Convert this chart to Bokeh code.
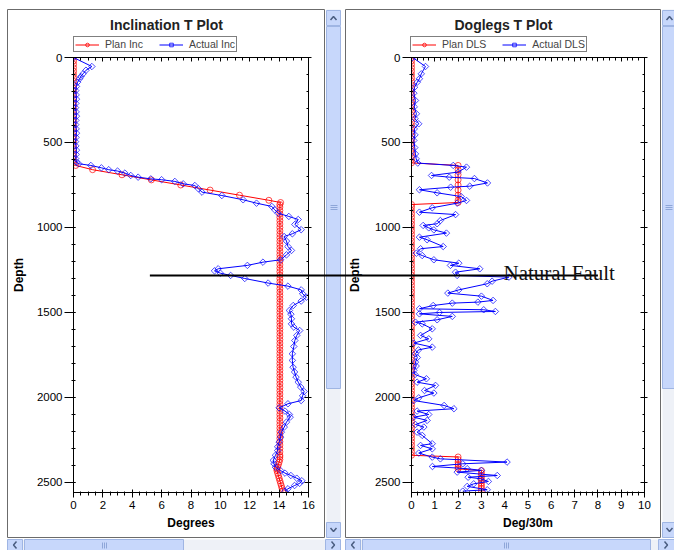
import math
from bokeh.plotting import figure
from bokeh.models import (Range1d, LinearAxis, SingleIntervalTicker, Label, Legend, LegendItem)
from bokeh.core.properties import value
from bokeh.layouts import row, column
from bokeh.embed import file_html
from bokeh.resources import INLINE

# ---------------- data ----------------
plan_depth = [0, 20, 40, 60, 80, 100, 120, 140, 160, 180, 200, 220, 240, 260, 280, 300,
              320, 340, 360, 380, 400, 420, 440, 460, 480, 500, 520, 540, 560, 580, 600, 620,
              635, 660, 690, 720, 750, 780, 810, 840, 853, 865,
              880, 900, 920, 940, 960, 980, 1000, 1020, 1040, 1060, 1080, 1100, 1120, 1140,
              1160, 1180, 1200, 1220, 1240, 1260, 1280, 1300, 1320, 1340, 1360, 1380, 1400,
              1420, 1440, 1460, 1480, 1500, 1520, 1540, 1560, 1580, 1600, 1620, 1640, 1660,
              1680, 1700, 1720, 1740, 1760, 1780, 1800, 1820, 1840, 1860, 1880, 1900, 1920,
              1940, 1960, 1980, 2000, 2020, 2040, 2060, 2080, 2100, 2120, 2140, 2160, 2180,
              2200, 2220, 2240, 2260, 2280, 2300, 2320, 2340,
              2350, 2365, 2380, 2395, 2410, 2420, 2430, 2445, 2460, 2475, 2490, 2505, 2520,
              2535, 2550]
plan_inc = [0.0, 0.0, 0.0, 0.0, 0.0, 0.0, 0.0, 0.0, 0.0, 0.0, 0.0, 0.0, 0.0, 0.0, 0.0, 0.0,
            0.0, 0.0, 0.0, 0.0, 0.0, 0.0, 0.0, 0.0, 0.0, 0.0, 0.0, 0.0, 0.0, 0.0, 0.0, 0.0,
            0.15, 1.3, 3.3, 5.3, 7.3, 9.3, 11.3, 13.3, 14.1, 14.05,
            14.05, 14.05, 14.05, 14.05, 14.05, 14.05, 14.05, 14.05, 14.05, 14.05, 14.05,
            14.05, 14.05, 14.05, 14.05, 14.05, 14.05, 14.05, 14.05, 14.05, 14.05, 14.05,
            14.05, 14.05, 14.05, 14.05, 14.05, 14.05, 14.05, 14.05, 14.05, 14.05, 14.05,
            14.05, 14.05, 14.05, 14.05, 14.05, 14.05, 14.05, 14.05, 14.05, 14.05, 14.05,
            14.05, 14.05, 14.05, 14.05, 14.05, 14.05, 14.05, 14.05, 14.05, 14.05, 14.05,
            14.05, 14.05, 14.05, 14.05, 14.05, 14.05, 14.05, 14.05, 14.05, 14.05, 14.05,
            14.05, 14.05, 14.05, 14.05, 14.05, 14.05, 14.05, 14.05, 14.05, 14.05,
            14.0, 13.95, 13.9, 13.85, 13.85, 13.9, 13.95, 14.0, 14.05, 14.1, 14.15, 14.2,
            14.25, 14.3, 14.35]
plan_dls = [0.0, 0.0, 0.0, 0.0, 0.0, 0.0, 0.0, 0.0, 0.0, 0.0, 0.0, 0.0, 0.0, 0.0, 0.0, 0.0,
            0.0, 0.0, 0.0, 0.0, 0.0, 0.0, 0.0, 0.0, 0.0, 0.0, 0.0, 0.0, 0.0, 0.0, 0.0, 0.0,
            2.0, 2.0, 2.0, 2.0, 2.0, 2.0, 2.0, 2.0, 2.0, 0.0,
            0.0, 0.0, 0.0, 0.0, 0.0, 0.0, 0.0, 0.0, 0.0, 0.0, 0.0, 0.0, 0.0, 0.0, 0.0, 0.0,
            0.0, 0.0, 0.0, 0.0, 0.0, 0.0, 0.0, 0.0, 0.0, 0.0, 0.0, 0.0, 0.0, 0.0, 0.0, 0.0,
            0.0, 0.0, 0.0, 0.0, 0.0, 0.0, 0.0, 0.0, 0.0, 0.0, 0.0, 0.0, 0.0, 0.0, 0.0, 0.0,
            0.0, 0.0, 0.0, 0.0, 0.0, 0.0, 0.0, 0.0, 0.0, 0.0, 0.0, 0.0, 0.0, 0.0, 0.0, 0.0,
            0.0, 0.0, 0.0, 0.0, 0.0, 0.0, 0.0, 0.0, 0.0, 0.0,
            2.0, 2.0, 2.0, 2.0, 2.0, 2.0, 3.0, 3.0, 3.0, 3.0, 3.0, 3.0, 3.0, 3.0, 3.0]

inc_depth = [0, 53, 75, 96, 112, 125, 145, 170, 195, 220, 245, 270, 295, 320, 345, 370, 395,
             420, 445, 470, 495, 520, 545, 570, 595, 615, 625, 635, 649, 660, 668, 680, 694,
             704, 714, 719, 729, 743, 753, 772, 792, 812, 837, 857, 876, 896, 916, 935, 953,
             982, 1013, 1037, 1053, 1080, 1112, 1135, 1161, 1190, 1204, 1223, 1243, 1255,
             1269, 1282, 1300, 1327, 1345, 1367, 1390, 1410, 1433, 1459, 1488, 1510, 1537,
             1567, 1586, 1606, 1635, 1665, 1700, 1743, 1782, 1822, 1850, 1880, 1910, 1939,
             1965, 1990, 2018, 2037, 2061, 2080, 2100, 2116, 2145, 2174, 2204, 2233, 2262,
             2290, 2312, 2340, 2370, 2390, 2410, 2430, 2445, 2459, 2475, 2490, 2505, 2518,
             2537, 2551]
actual_inc = [0.0, 1.25, 0.85, 0.65, 0.5, 0.42, 0.28, 0.2, 0.15, 0.18, 0.2, 0.16, 0.14, 0.18,
              0.2, 0.16, 0.15, 0.18, 0.2, 0.17, 0.14, 0.16, 0.2, 0.18, 0.15, 0.2, 0.36, 1.18,
              1.9, 2.4, 3.0, 3.5, 3.9, 4.4, 5.26, 6.0, 6.9, 7.47, 8.26, 8.5, 8.75, 10.1, 11.55,
              12.46, 13.5, 13.7, 13.93, 14.66, 15.3, 15.07, 15.5, 14.9, 14.34, 14.5, 14.6,
              14.84, 14.5, 14.1, 12.9, 11.84, 9.85, 9.6, 10.0, 10.7, 11.66, 13.25, 14.6, 15.5,
              15.6, 15.86, 15.5, 14.96, 14.7, 14.8, 14.84, 14.84, 15.0, 15.4, 15.2, 15.07,
              15.0, 14.9, 14.9, 14.95, 15.05, 15.15, 15.3, 15.47, 15.7, 15.6, 15.5, 14.6,
              14.0, 14.4, 14.7, 14.75, 14.5, 14.35, 14.15, 14.1, 14.0, 13.9, 13.9, 13.75,
              13.6, 13.65, 13.75, 14.1, 14.4, 14.8, 15.2, 15.55, 15.4, 15.05, 14.6, 14.4]

dls_depth = [0, 53, 96, 125, 145, 175, 210, 253, 290, 331, 360, 390, 420, 455, 488, 530, 567,
             596, 621, 635, 645, 674, 694, 704, 712, 738, 757, 763, 778, 796, 818, 841, 857,
             884, 910, 924, 959, 978, 988, 1002, 1014, 1033, 1057, 1072, 1112, 1125, 1151,
             1165, 1190, 1210, 1223, 1243, 1263, 1282, 1292, 1316, 1331, 1367, 1386, 1404,
             1429, 1439, 1445, 1459, 1478, 1484, 1494, 1500, 1508, 1523, 1543, 1557, 1567,
             1596, 1635, 1655, 1680, 1704, 1720, 1743, 1765, 1792, 1815, 1841, 1865, 1890,
             1910, 1929, 1959, 1974, 2002, 2018, 2047, 2066, 2080, 2100, 2116, 2135, 2159,
             2174, 2204, 2223, 2272, 2282, 2302, 2327, 2351, 2361, 2380, 2390, 2406, 2419,
             2429, 2439, 2459, 2469, 2478, 2494, 2508, 2523, 2543, 2551]
actual_dls = [0.05, 0.6, 0.42, 0.34, 0.25, 0.13, 0.1, 0.17, 0.12, 0.21, 0.15, 0.31, 0.12, 0.15,
              0.1, 0.14, 0.17, 0.2, 0.27, 1.79, 2.36, 2.0, 0.86, 1.62, 2.7, 3.26, 2.5, 1.68,
              0.34, 1.1, 2.13, 2.36, 1.96, 0.89, 0.34, 1.89, 1.24, 1.1, 0.5, 0.74, 0.96, 1.5,
              0.34, 0.67, 1.36, 0.39, 0.21, 0.46, 0.96, 2.03, 1.67, 2.93, 1.89, 1.96, 4.18,
              3.46, 3.25, 2.03, 1.56, 3.0, 3.5, 2.85, 1.75, 0.93, 0.34, 3.1, 3.6, 1.2, 0.34,
              1.75, 1.1, 0.17, 0.46, 0.89, 0.39, 0.74, 0.1, 0.89, 0.3, 0.17, 0.25, 0.17, 0.2,
              0.1, 0.15, 0.64, 0.24, 1.03, 0.56, 0.96, 0.31, 0.1, 1.4, 1.82, 0.24, 0.74, 0.1,
              0.67, 0.17, 0.53, 0.24, 0.46, 0.89, 0.39, 0.89, 0.31, 0.89, 1.24, 4.1, 2.2, 0.9,
              2.39, 3.0, 1.96, 3.68, 2.43, 2.96, 3.3, 2.67, 2.39, 3.25, 2.2]

titles = ["Inclination T Plot", "Doglegs T Plot"]
x_labels = ["Degrees", "Deg/30m"]
series_labels = [("Plan Inc", "Actual Inc"), ("Plan DLS", "Actual DLS")]

fault_depth = 1282
fault_inc_start = 5.2
fault_dls_end = 8.0
fault_label = "Natural Fault"
fault_label_dls = 3.95
fault_label_depth = 1265

# ---------------- layout constants ----------------
FONT = "Liberation Sans"
W, H = 674, 550
TOP, BOTTOM = 57, 58
FRAME_H = H - TOP - BOTTOM
DEPTH_MAX = 2559
P1_W, P1_L, P1_FW = 342, 73, 235
P2_W, P2_L, P2_FW = 332, 69, 233
BTN_FILL, BTN_LINE = "#c7d7fb", "#9fb5e3"
TRACK = "#eef1f7"
ARROW = "#4a5d80"
PLAN_C, ACT_C = "#ff0000", "#0000ff"


def panel(xlabel, x_end, x_int, fig_w, border_l, frame_w, plan_x, act_d, act_x,
          ylabel_standoff):
    p = figure(width=fig_w, height=H, x_range=Range1d(0, x_end),
               y_range=Range1d(DEPTH_MAX, 0), output_backend="svg", toolbar_location=None,
               min_border_left=border_l, min_border_right=fig_w - border_l - frame_w,
               min_border_top=TOP, min_border_bottom=BOTTOM,
               background_fill_color="white", border_fill_color="white")
    p.outline_line_color = "black"
    p.xgrid.visible = False
    p.ygrid.visible = False

    xa = p.xaxis[0]
    ya = p.yaxis[0]
    xa.ticker = SingleIntervalTicker(interval=x_int, num_minor_ticks=4)
    ya.ticker = SingleIntervalTicker(interval=500, num_minor_ticks=5)
    for ax in (xa, ya):
        ax.axis_line_color = "black"
        ax.major_tick_line_color = "black"
        ax.minor_tick_line_color = "black"
        ax.major_label_text_font = FONT
        ax.major_label_text_font_size = "11.5px"
        ax.major_label_text_color = "black"
        ax.axis_label_text_font = FONT
        ax.axis_label_text_font_size = "12px"
        ax.axis_label_text_font_style = "bold"
        ax.axis_label_text_color = "black"
    xa.axis_label = xlabel
    xa.major_tick_out, xa.major_tick_in = 5, 3
    xa.minor_tick_out, xa.minor_tick_in = 3, 1
    xa.major_label_standoff = 3
    xa.axis_label_standoff = 4
    ya.axis_label = "Depth"
    ya.major_tick_out, ya.major_tick_in = 9, 2
    ya.minor_tick_out, ya.minor_tick_in = 2, 2
    ya.major_label_standoff = 2
    ya.axis_label_standoff = ylabel_standoff

    # mirrored tick-only axes on top and right
    top = LinearAxis(ticker=SingleIntervalTicker(interval=x_int, num_minor_ticks=4),
                     major_tick_in=4, major_tick_out=0, minor_tick_in=3, minor_tick_out=0,
                     major_label_text_font_size="2px", major_label_text_color=None,
                     major_label_standoff=0, axis_line_color="black",
                     major_tick_line_color="black", minor_tick_line_color="black")
    right = LinearAxis(ticker=SingleIntervalTicker(interval=500, num_minor_ticks=5),
                       major_tick_in=4, major_tick_out=3, minor_tick_in=2, minor_tick_out=0,
                       major_label_text_font_size="2px", major_label_text_color=None,
                       major_label_standoff=0, axis_line_color="black",
                       major_tick_line_color="black", minor_tick_line_color="black")
    p.add_layout(top, "above")
    p.add_layout(right, "right")

    p.line(plan_x, plan_depth, line_color=PLAN_C, line_width=1)
    p.scatter(plan_x, plan_depth, marker="circle", size=6, line_color=PLAN_C,
              line_alpha=0.7, fill_color=None)
    p.line(act_x, act_d, line_color=ACT_C, line_width=1)
    p.scatter(act_x, act_d, marker="square", angle=math.pi / 4, size=4.6,
              line_color=ACT_C, line_alpha=0.7, fill_color=None)
    return p


p1 = panel(x_labels[0], 16, 2, P1_W, P1_L, P1_FW, plan_inc, inc_depth, actual_inc, 8)
p2 = panel(x_labels[1], 10, 1, P2_W, P2_L, P2_FW, plan_dls, dls_depth, actual_dls, 10)

# the natural fault, inside each plot
p1.segment(x0=[fault_inc_start], y0=[fault_depth], x1=[16], y1=[fault_depth],
           line_color="black", line_width=2)
p2.segment(x0=[0], y0=[fault_depth], x1=[fault_dls_end], y1=[fault_depth],
           line_color="black", line_width=2)
p2.add_layout(Label(x=fault_label_dls, y=fault_label_depth, text=fault_label,
                    text_font="Liberation Serif", text_font_size="21px",
                    text_color="#111111", text_baseline="alphabetic"))

# ---------------- transparent overlay: window chrome, titles, legends, fault link ----
px_per_m = FRAME_H / DEPTH_MAX
bg = figure(width=W, height=H, x_range=Range1d(0, W),
            y_range=Range1d(DEPTH_MAX + BOTTOM / px_per_m, -TOP / px_per_m),
            output_backend="svg", toolbar_location=None, x_axis_location=None,
            y_axis_location=None, min_border=0, min_border_left=0, min_border_right=0,
            min_border_top=0, min_border_bottom=0, outline_line_color=None,
            border_fill_alpha=0, background_fill_alpha=0)
bg.extra_y_ranges = {"px": Range1d(H, 0)}
bg.grid.visible = False
bg.margin = (-H, 0, 0, 0)

# panel borders
bg.quad(left=[7, 345], right=[324, 660], top=[9, 9], bottom=[537, 537], fill_color=None,
        line_color="#6b6b6b", line_width=1, y_range_name="px")
# scroll tracks
bg.quad(left=[326, 662, 7, 345], right=[340, 674, 340, 674], top=[9, 9, 539, 539],
        bottom=[537, 537, 550, 550], fill_color=TRACK, line_color=None, y_range_name="px")
# buttons and thumbs
btn_l = [326, 326, 326, 662, 662, 662, 7, 24, 325, 345, 362, 658]
btn_r = [340, 340, 340, 674, 674, 674, 22, 183, 340, 360, 650, 674]
btn_t = [10, 26, 522, 10, 26, 522, 539, 539, 539, 539, 539, 539]
btn_b = [25, 388, 537, 25, 388, 537, 550, 550, 550, 550, 550, 550]
bg.quad(left=btn_l, right=btn_r, top=btn_t, bottom=btn_b, fill_color=BTN_FILL,
        line_color=BTN_LINE, line_width=1, y_range_name="px")
# arrows on buttons
arrows_x = [[330, 333, 336], [330, 333, 336], [666, 669, 672], [666, 669, 672],
            [16, 13, 16], [331, 334, 331], [354, 351, 354], [664, 667, 664]]
arrows_y = [[19.5, 16, 19.5], [527.5, 531, 527.5], [19.5, 16, 19.5], [527.5, 531, 527.5],
            [541, 544.5, 548], [541, 544.5, 548], [541, 544.5, 548], [541, 544.5, 548]]
bg.multi_line(arrows_x, arrows_y, line_color=ARROW, line_width=1.5, y_range_name="px")
# grips
grip_x = [[330, 337], [330, 337], [330, 337], [665, 672], [665, 672], [665, 672],
          [102, 102], [104, 104], [106, 106], [504, 504], [506, 506], [508, 508]]
grip_y = [[205, 205], [207, 207], [209, 209], [205, 205], [207, 207], [209, 209],
          [542, 548], [542, 548], [542, 548], [542, 548], [542, 548], [542, 548]]
bg.multi_line(grip_x, grip_y, line_color="#8ea6d8", line_width=1, y_range_name="px")

# titles
bg.text(x=[166, 503], y=[24, 24], text=titles, text_font=value(FONT),
        text_font_size="14px", text_font_style="bold", text_color="#222222",
        text_align="center", text_baseline="middle", y_range_name="px")

# legends: proxy glyphs (one point each, placed off the canvas) styled like the series
OFF = [-100]
for lx, labels in ((P1_L, series_labels[0]), (P1_W + P2_L - 1, series_labels[1])):
    g1 = bg.line(x=OFF, y=OFF, line_color=PLAN_C, line_width=1, y_range_name="px")
    g2 = bg.scatter(x=OFF, y=OFF, marker="circle", size=6, line_color=PLAN_C,
                    line_alpha=0.8, fill_color=None, y_range_name="px")
    g3 = bg.line(x=OFF, y=OFF, line_color=ACT_C, line_width=1, y_range_name="px")
    g4 = bg.scatter(x=OFF, y=OFF, marker="square", angle=math.pi / 4, size=4.6,
                    line_color=ACT_C, line_alpha=0.8, fill_color=None, y_range_name="px")
    leg = Legend(items=[LegendItem(label=labels[0], renderers=[g1, g2]),
                        LegendItem(label=labels[1], renderers=[g3, g4])],
                 orientation="horizontal", location=(lx, H - 52), margin=0, padding=1,
                 spacing=16, glyph_width=24, glyph_height=9, label_height=9,
                 label_standoff=6, label_text_font=FONT, label_text_font_size="10.5px",
                 border_line_color="black", border_line_width=1,
                 background_fill_color="white", background_fill_alpha=1.0)
    bg.add_layout(leg)

# the fault line across the gap between the two plots
bg.segment(x0=[P1_L + P1_FW], y0=[fault_depth], x1=[P1_W + P2_L], y1=[fault_depth],
           line_color="black", line_width=2)

layout = column(row(p1, p2), bg)
open("out.html", "w").write(file_html(layout, INLINE))
